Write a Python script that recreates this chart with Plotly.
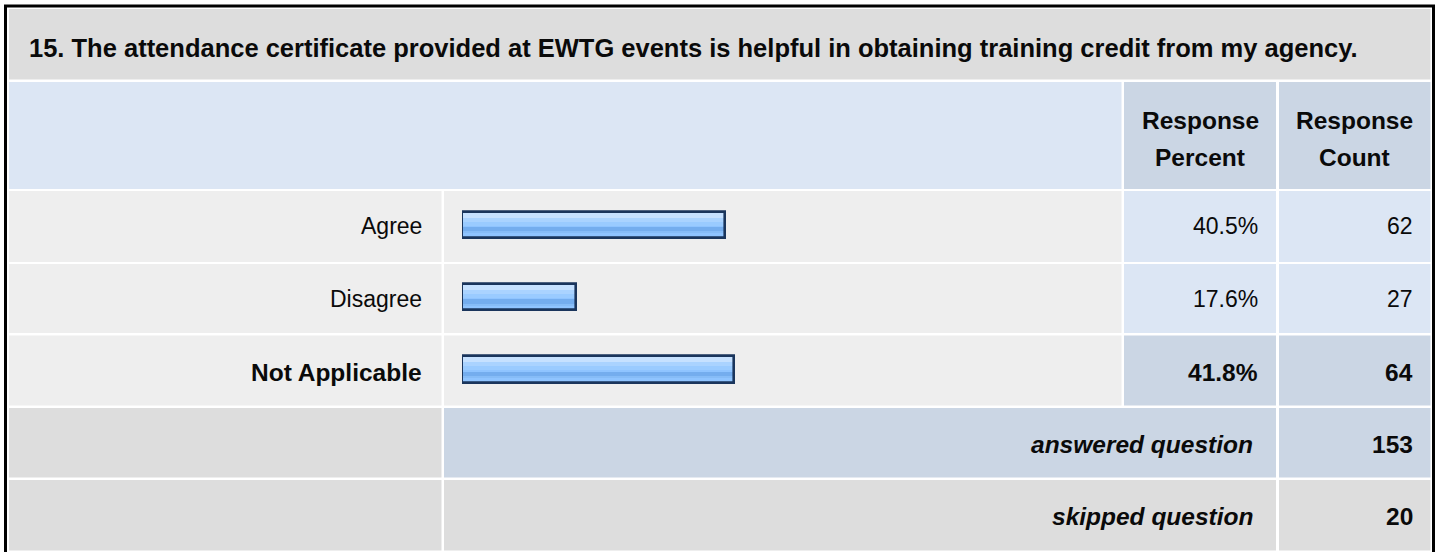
import plotly.graph_objects as go

# ---------------- data ----------------
title_text = "15. The attendance certificate provided at EWTG events is helpful in obtaining training credit from my agency."
header_lines = [["Response", "Percent"], ["Response", "Count"]]
categories = ["Agree", "Disagree", "Not Applicable"]
percents = [40.5, 17.6, 41.8]
counts = [62, 27, 64]
bold_rows = [False, False, True]
answered_label = "answered question"
answered_count = 153
skipped_label = "skipped question"
skipped_count = 20

# ---------------- geometry (pixels) ----------------
W, H = 1440, 552
def px(x):
    return x / W
def py(y):
    return 1 - y / H

cols = [(9, 441.5), (444, 1121.5), (1124, 1276), (1279, 1430.5)]
rows = {
    "title": (9, 79.5),
    "header": (82, 189),
    "r0": (191, 262),
    "r1": (264, 333),
    "r2": (335.5, 405.5),
    "answered": (408, 477.5),
    "skipped": (480, 550.5),
}

GREY = "#DDDDDD"
LIGHT = "#EEEEEE"
BLUE1 = "#DCE6F4"
BLUE2 = "#CBD6E4"
TXT = "#0A0A0A"

shapes = []
def cell(x0, x1, y0, y1, color):
    shapes.append(dict(type="rect", xref="paper", yref="paper",
                       x0=px(x0), x1=px(x1), y0=py(y1), y1=py(y0),
                       fillcolor=color, line=dict(width=0), layer="below"))

cell(cols[0][0], cols[3][1], *rows["title"], GREY)
cell(cols[0][0], cols[1][1], *rows["header"], BLUE1)
cell(*cols[2], *rows["header"], BLUE2)
cell(*cols[3], *rows["header"], BLUE2)
for i in range(len(categories)):
    r = rows["r%d" % i]
    cell(*cols[0], *r, LIGHT)
    cell(*cols[1], *r, LIGHT)
    c = BLUE2 if bold_rows[i] else BLUE1
    cell(*cols[2], *r, c)
    cell(*cols[3], *r, c)
cell(*cols[0], *rows["answered"], GREY)
cell(cols[1][0], cols[2][1], *rows["answered"], BLUE2)
cell(*cols[3], *rows["answered"], BLUE2)
cell(*cols[0], *rows["skipped"], GREY)
cell(cols[1][0], cols[2][1], *rows["skipped"], GREY)
cell(*cols[3], *rows["skipped"], GREY)

# outer border
shapes.append(dict(type="rect", xref="paper", yref="paper",
                   x0=px(5.5), x1=px(1433.5), y0=py(554), y1=py(6),
                   line=dict(color="#000000", width=3), fillcolor="rgba(0,0,0,0)", layer="above"))

# ---------------- annotations ----------------
FONT = "Liberation Sans"
S_TITLE, S_BOLD, S_REG = 25.5, 24.5, 23
ann = []
def text(t, x, y, anchor, size, bold=False, italic=False):
    if italic:
        t = "<i>%s</i>" % t
    if bold:
        t = "<b>%s</b>" % t
    ann.append(dict(text=t, x=px(x), y=py(y), xref="paper", yref="paper",
                    xanchor=anchor, yanchor="middle", showarrow=False,
                    font=dict(family=FONT, size=size, color=TXT)))

text(title_text, 27, 48, "left", S_TITLE, bold=True)
hdr_x = [(cols[2][0] + cols[2][1]) / 2, (cols[3][0] + cols[3][1]) / 2]
for hx, lines in zip(hdr_x, header_lines):
    text(lines[0], hx, 121, "center", S_BOLD, bold=True)
    text(lines[1], hx, 157, "center", S_BOLD, bold=True)

row_cy = [226, 299, 372]
for i, cat in enumerate(categories):
    b = bold_rows[i]
    s = S_BOLD if b else S_REG
    text(cat, 424, row_cy[i], "right", s, bold=b)
    text("%.1f%%" % percents[i], 1260, row_cy[i], "right", s, bold=b)
    text(str(counts[i]), 1414.5, row_cy[i], "right", s, bold=b)

for lbl, cnt, cy in [(answered_label, answered_count, 444), (skipped_label, skipped_count, 516)]:
    text(lbl, 1254.5, cy, "right", S_BOLD, bold=True, italic=True)
    text(str(cnt), 1414.5, cy, "right", S_BOLD, bold=True)

# ---------------- bars ----------------
ypos = list(range(len(categories)))
BW = 0.362
fig = go.Figure()
def band(color, start, frac):
    fig.add_trace(go.Bar(x=percents, y=ypos, orientation="h",
                         width=BW * frac, offset=-BW / 2 + BW * start,
                         marker=dict(color=color, line=dict(width=0)), hoverinfo="skip"))
band("#8FC4FF", 0.0, 1.0)
band("#C6E1FF", 0.0, 0.22)
band("#AAD3FF", 0.22, 0.16)
band("#9ACBFF", 0.38, 0.14)
band("#74ADEE", 0.58, 0.18)
band("#86BCF7", 0.76, 0.06)
fig.add_trace(go.Bar(x=percents, y=ypos, orientation="h", width=BW, offset=-BW / 2,
                     marker=dict(color="rgba(0,0,0,0)", line=dict(width=2.6, color="#1A355C")),
                     hoverinfo="skip"))

fig.update_layout(
    width=W, height=H, margin=dict(l=0, r=0, t=0, b=0),
    paper_bgcolor="#FFFFFF", plot_bgcolor="rgba(0,0,0,0)",
    barmode="overlay", showlegend=False, bargap=0,
    xaxis=dict(domain=[px(462), px(1112)], range=[0, 100], visible=False, fixedrange=True),
    yaxis=dict(domain=[py(405.5), py(188.9)], range=[2.5, -0.5], visible=False, fixedrange=True),
    shapes=shapes, annotations=ann,
)
fig.write_html("out.html", config={"displayModeBar": False},
               post_script="document.body.style.margin='0';document.body.style.overflow='hidden';")
